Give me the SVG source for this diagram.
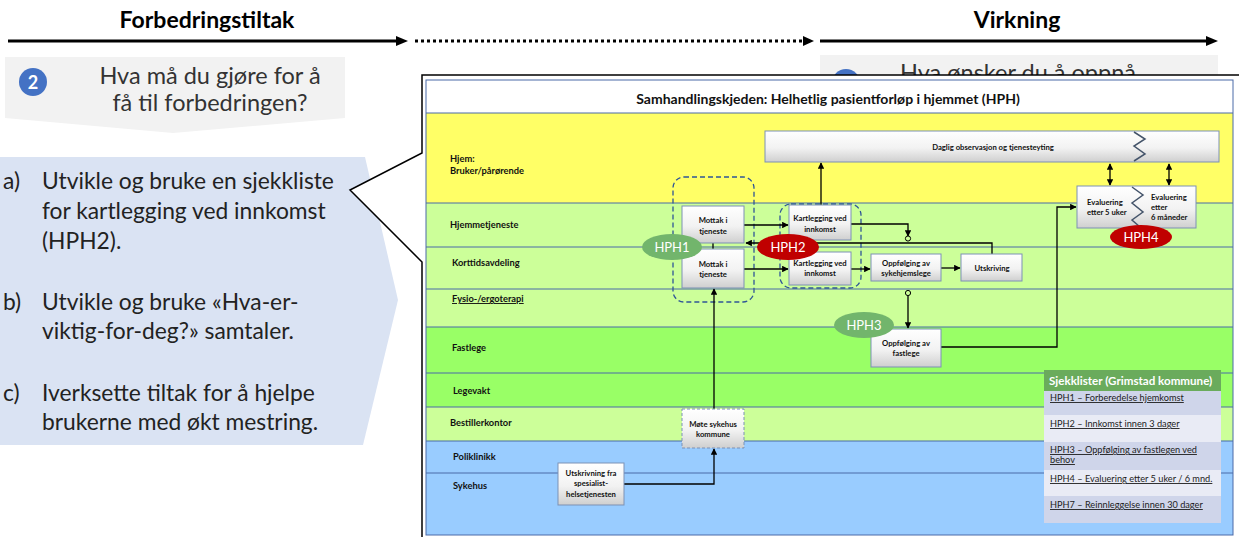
<svg xmlns="http://www.w3.org/2000/svg" width="1239" height="537" viewBox="0 0 1239 537">
  <defs>
    <linearGradient id="boxFill" x1="0" y1="0" x2="0" y2="1">
      <stop offset="0" stop-color="#ffffff"/>
      <stop offset="0.55" stop-color="#f2f2f2"/>
      <stop offset="1" stop-color="#cfcfcf"/>
    </linearGradient>
    <marker id="arr" viewBox="0 0 10 10" refX="9" refY="5" markerWidth="5" markerHeight="5" orient="auto-start-reverse">
      <path d="M0,0 L10,5 L0,10 z" fill="#000"/>
    </marker>
    <style>
      .hdr { font-family: Lato, "Liberation Sans", sans-serif; font-weight: 700; font-size: 23px; fill: #000; text-anchor: middle; }
      .q { font-family: Lato, "Liberation Sans", sans-serif; font-size: 23.5px; fill: #333; text-anchor: middle; }
      .pt { font-family: Lato, "Liberation Sans", sans-serif; font-size: 22.8px; fill: #222; }
      .lane { font-family: Lato, "Liberation Sans", sans-serif; font-weight: 700; font-size: 9.3px; fill: #111; }
      .ttl { font-family: Lato, "Liberation Sans", sans-serif; font-weight: 700; font-size: 14px; fill: #111; text-anchor: middle; }
      .box { fill: url(#boxFill); stroke: #7d91b5; stroke-width: 1; }
      .bt { font-family: Lato, "Liberation Sans", sans-serif; font-weight: 700; font-size: 7.7px; fill: #111; text-anchor: middle; }
      .btl { font-family: Lato, "Liberation Sans", sans-serif; font-weight: 700; font-size: 7.7px; fill: #111; }
      .sep { stroke: #4a6aa8; stroke-width: 1; }
      .conn { stroke: #000; stroke-width: 1.3; fill: none; }
      .grp { fill: none; stroke: #2f5597; stroke-width: 1.3; stroke-dasharray: 5 3; }
      .zig { fill: none; stroke: #44546a; stroke-width: 1.5; }
      .hph { font-family: Lato, "Liberation Sans", sans-serif; font-size: 13px; fill: #fff; text-anchor: middle; }
      .lg { font-family: Lato, "Liberation Sans", sans-serif; font-size: 9.2px; fill: #222; text-decoration: underline; }
    </style>
  </defs>

  <rect width="1239" height="537" fill="#fff"/>

  <!-- header arrows -->
  <g id="header">
    <text class="hdr" x="207" y="28">Forbedringstiltak</text>
    <text class="hdr" x="1017" y="28">Virkning</text>
    <line x1="8" y1="41" x2="398" y2="41" stroke="#000" stroke-width="3"/>
    <polygon points="396,36 408,41 396,46" fill="#000"/>
    <line x1="415" y1="41" x2="804" y2="41" stroke="#000" stroke-width="3" stroke-dasharray="3 3"/>
    <polygon points="803,36 814,41 803,46" fill="#000"/>
    <line x1="820" y1="41" x2="1208" y2="41" stroke="#000" stroke-width="3"/>
    <polygon points="1206,36 1218,41 1206,46" fill="#000"/>
  </g>

  <!-- question banner 2 -->
  <g id="question-2">
    <polygon points="5,57 345,57 345,118 173,133 5,118" fill="#f2f2f2"/>
    <circle cx="33" cy="82" r="14" fill="#4472c4"/>
    <text x="33" y="89" font-family="Lato, 'Liberation Sans', sans-serif" font-weight="700" font-size="18" fill="#fff" text-anchor="middle">2</text>
    <text class="q" x="210" y="84">Hva må du gjøre for å</text>
    <text class="q" x="210" y="111">få til forbedringen?</text>
  </g>

  <!-- question banner 1 (partly hidden) -->
  <g id="question-1">
    <rect x="820" y="55" width="398" height="40" fill="#f2f2f2"/>
    <circle cx="846" cy="83" r="14" fill="#4472c4"/>
    <text x="900" y="81" font-family="Lato, 'Liberation Sans', sans-serif" font-size="23.5" fill="#333">Hva ønsker du å oppnå</text>
  </g>

  <!-- measures panel -->
  <g id="measures">
    <polygon points="0,157 365,157 398,300 363,445 0,445" fill="#dae3f3"/>
    <text class="pt" x="3" y="189">a)</text>
    <text class="pt" x="42" y="189">Utvikle og bruke en sjekkliste</text>
    <text class="pt" x="42" y="219">for kartlegging ved innkomst</text>
    <text class="pt" x="42" y="249">(HPH2).</text>
    <text class="pt" x="3" y="310">b)</text>
    <text class="pt" x="42" y="310">Utvikle og bruke «Hva-er-</text>
    <text class="pt" x="42" y="339">viktig-for-deg?» samtaler.</text>
    <text class="pt" x="3" y="401">c)</text>
    <text class="pt" x="42" y="401">Iverksette tiltak for å hjelpe</text>
    <text class="pt" x="42" y="430">brukerne med økt mestring.</text>
  </g>

  <!-- callout frame -->
  <path id="callout" d="M422,75 H1245 V545 H422 V262 L350,190 L422,153 Z" fill="#fff" stroke="#000" stroke-width="1.5"/>

  <!-- swimlanes -->
  <g id="lanes">
    <rect x="426" y="80" width="807" height="33" fill="#fff"/>
    <rect x="426" y="113" width="807" height="90" fill="#ffff66"/>
    <rect x="426" y="203" width="807" height="44" fill="#ccff99"/>
    <rect x="426" y="247" width="807" height="42" fill="#ccff99"/>
    <rect x="426" y="289" width="807" height="38" fill="#ccff99"/>
    <rect x="426" y="327" width="807" height="46" fill="#99ff66"/>
    <rect x="426" y="373" width="807" height="34" fill="#99ff66"/>
    <rect x="426" y="407" width="807" height="34" fill="#ccff99"/>
    <rect x="426" y="441" width="807" height="32" fill="#99ccff"/>
    <rect x="426" y="473" width="807" height="62" fill="#99ccff"/>
    <rect x="426" y="80" width="807" height="455" fill="none" stroke="#4a6aa8" stroke-width="1"/>
    <line class="sep" x1="426" y1="113" x2="1233" y2="113" stroke="#7f7f7f"/>
    <line class="sep" x1="426" y1="203" x2="1233" y2="203"/>
    <line class="sep" x1="426" y1="247" x2="1233" y2="247"/>
    <line class="sep" x1="426" y1="289" x2="1233" y2="289"/>
    <line class="sep" x1="426" y1="327" x2="1233" y2="327"/>
    <line class="sep" x1="426" y1="373" x2="1233" y2="373"/>
    <line class="sep" x1="426" y1="407" x2="1233" y2="407"/>
    <line class="sep" x1="426" y1="441" x2="1233" y2="441"/>
    <line class="sep" x1="426" y1="473" x2="1233" y2="473"/>
    <text class="ttl" x="828" y="104">Samhandlingskjeden: Helhetlig pasientforløp i hjemmet (HPH)</text>
    <text class="lane" x="450" y="162">Hjem:</text>
    <text class="lane" x="450" y="174">Bruker/pårørende</text>
    <text class="lane" x="450" y="228">Hjemmetjeneste</text>
    <text class="lane" x="452" y="266">Korttidsavdeling</text>
    <text class="lane" x="452" y="302" text-decoration="underline">Fysio-/ergoterapi</text>
    <text class="lane" x="452" y="351">Fastlege</text>
    <text class="lane" x="453" y="394">Legevakt</text>
    <text class="lane" x="450" y="426">Bestillerkontor</text>
    <text class="lane" x="453" y="460">Poliklinikk</text>
    <text class="lane" x="453" y="489">Sykehus</text>
  </g>

  <!-- checklist legend -->
  <g id="legend">
    <rect x="1044" y="370" width="177" height="21" fill="#6aab5c"/>
    <text x="1049" y="385" font-family="Lato, 'Liberation Sans', sans-serif" font-weight="700" font-size="11.6" fill="#fff">Sjekklister (Grimstad kommune)</text>
    <rect x="1044" y="391" width="177" height="24" fill="#cfd5ea"/>
    <rect x="1044" y="415" width="177" height="27" fill="#e9ebf5"/>
    <rect x="1044" y="442" width="177" height="28" fill="#cfd5ea"/>
    <rect x="1044" y="470" width="177" height="26" fill="#e9ebf5"/>
    <rect x="1044" y="496" width="177" height="27" fill="#cfd5ea"/>
    <text class="lg" x="1050" y="401">HPH1 – Forberedelse hjemkomst</text>
    <text class="lg" x="1050" y="427">HPH2 – Innkomst innen 3 dager</text>
    <text class="lg" x="1050" y="453">HPH3 – Oppfølging av fastlegen ved</text>
    <text class="lg" x="1050" y="463">behov</text>
    <text class="lg" x="1050" y="482">HPH4 – Evaluering etter 5 uker / 6 mnd.</text>
    <text class="lg" x="1050" y="508">HPH7 – Reinnleggelse innen 30 dager</text>
  </g>

  <!-- dashed groupings -->
  <rect class="grp" x="673" y="177" width="81" height="125" rx="11"/>
  <rect class="grp" x="780" y="204" width="81" height="84" rx="11"/>

  <!-- connectors -->
  <g id="connectors">
    <line class="conn" x1="744" y1="225" x2="788" y2="225" marker-end="url(#arr)"/>
    <line class="conn" x1="744" y1="269" x2="788" y2="269" marker-end="url(#arr)"/>
    <line class="conn" x1="713" y1="243" x2="713" y2="249"/>
    <line class="conn" x1="821" y1="205" x2="821" y2="163" marker-end="url(#arr)"/>
    <polyline class="conn" points="851,224 908,224 908,236" marker-end="url(#arr)"/>
    <circle cx="908" cy="238.5" r="2.6" fill="none" stroke="#000" stroke-width="1"/>
    <polyline class="conn" points="992,254 992,243 746,243" marker-end="url(#arr)"/>
    <line class="conn" x1="851" y1="269" x2="870" y2="269" marker-end="url(#arr)"/>
    <line class="conn" x1="941" y1="268" x2="960" y2="268" marker-end="url(#arr)"/>
    <circle cx="908" cy="293" r="2.6" fill="none" stroke="#000" stroke-width="1"/>
    <line class="conn" x1="908" y1="296" x2="908" y2="328" marker-end="url(#arr)"/>
    <polyline class="conn" points="941,347 1057,347 1057,207 1076,207" marker-end="url(#arr)"/>
    <line class="conn" x1="1110" y1="164" x2="1110" y2="185" marker-start="url(#arr)" marker-end="url(#arr)"/>
    <line class="conn" x1="1169" y1="164" x2="1169" y2="185" marker-start="url(#arr)" marker-end="url(#arr)"/>
    <polyline class="conn" points="624,484 714,484 714,449" marker-end="url(#arr)"/>
    <line class="conn" x1="714" y1="409" x2="714" y2="289" marker-end="url(#arr)"/>
  </g>

  <!-- process steps -->
  <g id="daglig">
    <rect class="box" x="765" y="131" width="454" height="31"/>
    <text class="bt" x="993" y="150">Daglig observasjon og tjenesteyting</text>
    <polyline class="zig" points="1134,132 1145,139 1134,146 1145,154 1134,161"/>
  </g>
  <g id="evaluering">
    <rect class="box" x="1077" y="186" width="119" height="42"/>
    <polyline class="zig" points="1132,187 1143,195 1132,203 1143,212 1132,220 1140,227"/>
    <text class="btl" x="1087" y="205">Evaluering</text>
    <text class="btl" x="1087" y="215">etter 5 uker</text>
    <text class="btl" x="1151" y="200">Evaluering</text>
    <text class="btl" x="1151" y="210">etter</text>
    <text class="btl" x="1151" y="220">6 måneder</text>
  </g>
  <g id="mottak-hjemmetjeneste">
    <rect class="box" x="682" y="206" width="62" height="37"/>
    <text class="bt" x="713" y="222.5">Mottak i</text>
    <text class="bt" x="713" y="233.5">tjeneste</text>
  </g>
  <g id="mottak-korttid">
    <rect class="box" x="682" y="249" width="62" height="39"/>
    <text class="bt" x="713" y="266.5">Mottak i</text>
    <text class="bt" x="713" y="276.5">tjeneste</text>
  </g>
  <g id="kartlegging-hjemmetjeneste">
    <rect class="box" x="789" y="205" width="62" height="35"/>
    <text class="bt" x="820" y="220.5">Kartlegging ved</text>
    <text class="bt" x="820" y="231.5">innkomst</text>
  </g>
  <g id="kartlegging-korttid">
    <rect class="box" x="789" y="252" width="62" height="33"/>
    <text class="bt" x="820" y="265.5">Kartlegging ved</text>
    <text class="bt" x="820" y="275.5">innkomst</text>
  </g>
  <g id="oppfolging-sykehjemslege">
    <rect class="box" x="871" y="254" width="70" height="27"/>
    <text class="bt" x="906" y="265.5">Oppfølging av</text>
    <text class="bt" x="906" y="275.5">sykehjemslege</text>
  </g>
  <g id="utskriving">
    <rect class="box" x="961" y="254" width="61" height="27"/>
    <text class="bt" x="992" y="270.5">Utskriving</text>
  </g>
  <g id="oppfolging-fastlege">
    <rect class="box" x="871" y="329" width="70" height="38"/>
    <text class="bt" x="906" y="345.5">Oppfølging av</text>
    <text class="bt" x="906" y="356">fastlege</text>
  </g>
  <g id="mote-sykehus">
    <rect class="box" x="682" y="409" width="62" height="39" stroke="#2f5597" stroke-dasharray="3 2"/>
    <text class="bt" x="713" y="426.5">Møte sykehus</text>
    <text class="bt" x="713" y="436.5">kommune</text>
  </g>
  <g id="utskrivning-spesialist">
    <rect class="box" x="558" y="463" width="66" height="42"/>
    <text class="bt" x="591" y="475.5">Utskrivning fra</text>
    <text class="bt" x="591" y="486">spesialist-</text>
    <text class="bt" x="591" y="497">helsetjenesten</text>
  </g>

  <!-- checklist markers -->
  <g id="hph1">
    <ellipse cx="672" cy="247" rx="30" ry="13" fill="#72b56c"/>
    <text class="hph" x="672" y="251.5">HPH1</text>
  </g>
  <g id="hph2">
    <ellipse cx="788" cy="247" rx="31" ry="13" fill="#c00000"/>
    <text class="hph" x="788" y="251.5">HPH2</text>
  </g>
  <g id="hph3">
    <ellipse cx="864" cy="325" rx="30" ry="13" fill="#72b56c"/>
    <text class="hph" x="864" y="329.5">HPH3</text>
  </g>
  <g id="hph4">
    <ellipse cx="1141" cy="237" rx="31" ry="12" fill="#c00000"/>
    <text class="hph" x="1141" y="241.5">HPH4</text>
  </g>
</svg>
